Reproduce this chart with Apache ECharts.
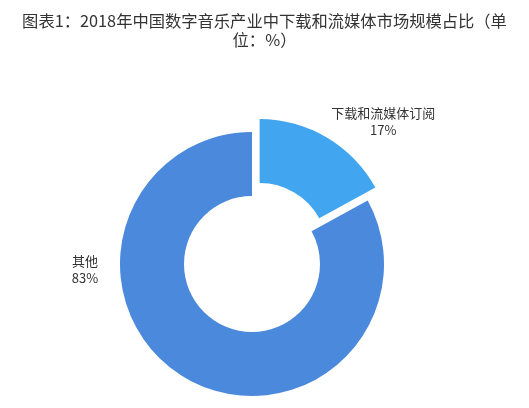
<!DOCTYPE html>
<html><head><meta charset="utf-8">
<script src="https://cdn.jsdelivr.net/npm/echarts@6/dist/echarts.min.js"></script>
<style>html,body{margin:0;padding:0;background:#fff}#c{width:529px;height:408px}</style>
</head><body><div id="c"></div>
<script>
var titleText = '图表1：2018年中国数字音乐产业中下载和流媒体市场规模占比（单\n位：%）';
var categories = ['下载和流媒体订阅', '其他'];
var values = [17, 83];

var colors = ['#42a5ef', '#4a89dc'];

var chart = echarts.init(document.getElementById('c'));
chart.setOption({
  animation: false,
  title: {
    text: titleText, left: 'center', top: 6,
    textStyle: {fontFamily: 'Noto Sans CJK SC', fontSize: 16.3, fontWeight: 'normal', color: '#333', lineHeight: 19}
  },
  series: [{
    type: 'pie',
    center: [252, 264],
    radius: [68, 132],
    startAngle: 90,
    clockwise: true,
    selectedMode: 'single',
    selectedOffset: 15,
    label: {
      show: true,
      formatter: '{b}\n{d}%',
      fontFamily: 'Noto Sans CJK SC',
      fontSize: 13, color: '#333', lineHeight: 17, align: 'center'
    },
    labelLine: {show: false},
    labelLayout: function (p) {
      if (p.dataIndex !== 1) return {align: 'center'};
      return {x: 85, y: 270, align: 'center', verticalAlign: 'middle'};
    },
    emphasis: {disabled: true},
    data: categories.map(function (c, i) {
      var d = {name: c, value: values[i], selected: i === 0, itemStyle: {color: colors[i]}};
      if (i === 0) d.labelLine = {show: false, length: 18.5, length2: 42};
      return d;
    })
  }]
});
</script>
</body></html>
